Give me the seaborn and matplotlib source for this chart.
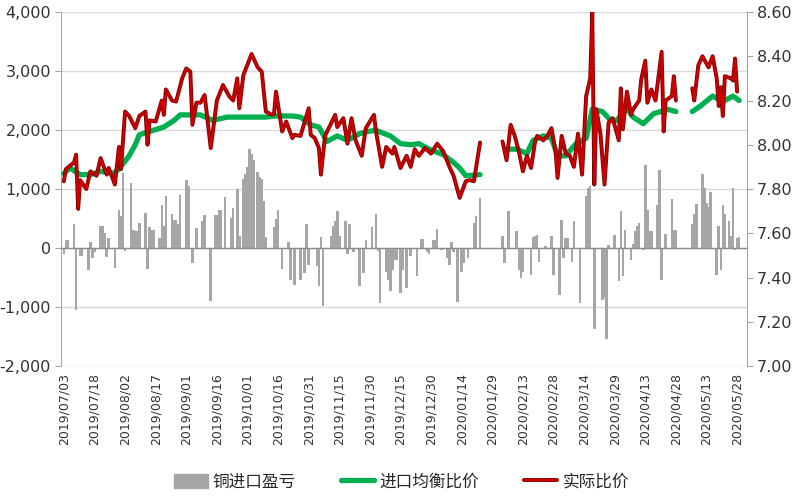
import matplotlib
matplotlib.use("Agg")
import matplotlib.pyplot as plt
import matplotlib.patheffects as pe
from matplotlib.lines import Line2D
from matplotlib.patches import Patch
from matplotlib.ticker import FuncFormatter
import pandas as pd
import seaborn as sns

# ---- data ----
tick_dates = ["2019/07/03", "2019/07/18", "2019/08/02", "2019/08/17", "2019/09/01",
              "2019/09/16", "2019/10/01", "2019/10/16", "2019/10/31", "2019/11/15",
              "2019/11/30", "2019/12/15", "2019/12/30", "2020/01/14", "2020/01/29",
              "2020/02/13", "2020/02/28", "2020/03/14", "2020/03/29", "2020/04/13",
              "2020/04/28", "2020/05/13", "2020/05/28"]

legend_labels = ["铜进口盈亏", "进口均衡比价", "实际比价"]

# copper import profit / loss (yuan/t, left axis)
profit = [
    ("2019-07-03", -110), ("2019-07-04", 140), ("2019-07-05", 140), ("2019-07-08", 400),
    ("2019-07-09", -1050), ("2019-07-11", -140), ("2019-07-12", -140), ("2019-07-15", -370),
    ("2019-07-16", 110), ("2019-07-17", -170), ("2019-07-18", -60), ("2019-07-21", 380),
    ("2019-07-22", 380), ("2019-07-23", 250), ("2019-07-24", -150), ("2019-07-25", 170),
    ("2019-07-28", -340), ("2019-07-30", 650), ("2019-07-31", 550), ("2019-08-01", 1270),
    ("2019-08-02", -50), ("2019-08-05", 1100), ("2019-08-06", 310), ("2019-08-07", 280),
    ("2019-08-08", 280), ("2019-08-09", 420), ("2019-08-12", 590), ("2019-08-13", -360),
    ("2019-08-14", 360), ("2019-08-15", 310), ("2019-08-16", 310), ("2019-08-19", 170),
    ("2019-08-20", 730), ("2019-08-21", 370), ("2019-08-22", 880), ("2019-08-25", 580),
    ("2019-08-26", 480), ("2019-08-27", 480), ("2019-08-28", 400), ("2019-08-29", 900),
    ("2019-09-01", 1160), ("2019-09-02", 1050), ("2019-09-04", -250), ("2019-09-06", 340),
    ("2019-09-09", 450), ("2019-09-10", 565), ("2019-09-13", -900), ("2019-09-15", 565),
    ("2019-09-16", 565), ("2019-09-17", 650), ("2019-09-18", 650), ("2019-09-20", 865),
    ("2019-09-23", 510), ("2019-09-24", 680), ("2019-09-26", 1000), ("2019-09-27", 200),
    ("2019-09-29", 1170), ("2019-09-30", 1250), ("2019-10-01", 1380), ("2019-10-02", 1680),
    ("2019-10-03", 1600), ("2019-10-04", 1500), ("2019-10-06", 1280), ("2019-10-07", 1200),
    ("2019-10-08", 1170), ("2019-10-09", 790), ("2019-10-10", 190), ("2019-10-14", 360),
    ("2019-10-15", 500), ("2019-10-16", 650), ("2019-10-18", -360), ("2019-10-21", 110),
    ("2019-10-22", -540), ("2019-10-24", -620), ("2019-10-27", -540), ("2019-10-29", -420),
    ("2019-10-30", 400), ("2019-10-31", -280), ("2019-11-04", -310), ("2019-11-05", -650),
    ("2019-11-06", 180), ("2019-11-07", -990), ("2019-11-11", 200), ("2019-11-12", 370),
    ("2019-11-13", 450), ("2019-11-14", 620), ("2019-11-15", 200), ("2019-11-18", 450),
    ("2019-11-19", -110), ("2019-11-20", 400), ("2019-11-22", -60), ("2019-11-25", -650),
    ("2019-11-27", -420), ("2019-11-28", 140), ("2019-12-01", 360), ("2019-12-03", 580),
    ("2019-12-04", -50), ("2019-12-05", -930), ("2019-12-08", -400), ("2019-12-09", -540),
    ("2019-12-10", -730), ("2019-12-11", -370), ("2019-12-12", -200), ("2019-12-13", -200),
    ("2019-12-15", -760), ("2019-12-16", -370), ("2019-12-18", -680), ("2019-12-20", -140),
    ("2019-12-23", -480), ("2019-12-25", 150), ("2019-12-26", 150), ("2019-12-28", -60),
    ("2019-12-29", -110), ("2019-12-31", 130), ("2020-01-01", 130), ("2020-01-02", 320),
    ("2020-01-04", -40), ("2020-01-07", -170), ("2020-01-08", -280), ("2020-01-09", 100),
    ("2020-01-10", -60), ("2020-01-12", -920), ("2020-01-14", -400), ("2020-01-15", -250),
    ("2020-01-17", -170), ("2020-01-20", 420), ("2020-01-21", 540), ("2020-01-23", 850),
    ("2020-02-03", 200), ("2020-02-04", -250), ("2020-02-06", 620), ("2020-02-10", 280),
    ("2020-02-11", -370), ("2020-02-12", -510), ("2020-02-13", -400), ("2020-02-17", -450),
    ("2020-02-18", 190), ("2020-02-19", 200), ("2020-02-20", 225), ("2020-02-21", -230),
    ("2020-02-24", 30), ("2020-02-27", 200), ("2020-02-28", -450), ("2020-03-02", -790),
    ("2020-03-03", 480), ("2020-03-04", -170), ("2020-03-05", 170), ("2020-03-06", 170),
    ("2020-03-08", -230), ("2020-03-09", 450), ("2020-03-12", -930), ("2020-03-15", 880),
    ("2020-03-16", 1020), ("2020-03-17", 1050), ("2020-03-19", -1380), ("2020-03-23", -880),
    ("2020-03-24", -850), ("2020-03-25", -1550), ("2020-03-26", 50), ("2020-03-29", 225),
    ("2020-03-31", -565), ("2020-04-01", 620), ("2020-04-02", -480), ("2020-04-03", 310),
    ("2020-04-06", -200), ("2020-04-07", 60), ("2020-04-08", 280), ("2020-04-09", 370),
    ("2020-04-10", 420), ("2020-04-12", -40), ("2020-04-13", 1400), ("2020-04-14", 650),
    ("2020-04-15", 280), ("2020-04-16", 280), ("2020-04-19", 730), ("2020-04-20", 1330),
    ("2020-04-21", -540), ("2020-04-23", 240), ("2020-04-26", 830), ("2020-04-27", 310),
    ("2020-04-28", 310), ("2020-05-06", 400), ("2020-05-07", 580), ("2020-05-08", 750),
    ("2020-05-11", 1250), ("2020-05-12", 1020), ("2020-05-13", 760), ("2020-05-14", 700),
    ("2020-05-15", 950), ("2020-05-18", -450), ("2020-05-19", 380), ("2020-05-20", -370),
    ("2020-05-21", 730), ("2020-05-22", 580), ("2020-05-24", 450), ("2020-05-25", 200),
    ("2020-05-26", 1020), ("2020-05-27", -40), ("2020-05-28", 170), ("2020-05-29", 190),
]

# import break-even ratio (right axis)
balance_ratio = [
    ("2019-07-03", 7.87), ("2019-07-06", 7.895), ("2019-07-11", 7.865), ("2019-07-16", 7.865),
    ("2019-07-21", 7.88), ("2019-07-27", 7.87), ("2019-07-30", 7.89), ("2019-08-04", 7.95),
    ("2019-08-07", 8.00), ("2019-08-09", 8.045), ("2019-08-14", 8.06), ("2019-08-21", 8.08),
    ("2019-08-26", 8.11), ("2019-08-29", 8.135), ("2019-09-03", 8.135), ("2019-09-08", 8.135),
    ("2019-09-14", 8.11), ("2019-09-21", 8.125), ("2019-09-27", 8.125), ("2019-10-03", 8.125),
    ("2019-10-10", 8.125), ("2019-10-15", 8.13), ("2019-10-19", 8.13), ("2019-10-23", 8.13),
    ("2019-10-27", 8.125), ("2019-11-01", 8.09), ("2019-11-05", 8.08), ("2019-11-09", 8.015),
    ("2019-11-14", 8.04), ("2019-11-19", 8.02), ("2019-11-25", 8.05), ("2019-11-29", 8.06),
    ("2019-12-03", 8.065), ("2019-12-10", 8.04), ("2019-12-15", 8.005), ("2019-12-20", 8.00),
    ("2019-12-24", 8.005), ("2019-12-29", 7.98), ("2020-01-05", 7.955), ("2020-01-10", 7.92),
    ("2020-01-13", 7.895), ("2020-01-16", 7.86), ("2020-01-23", 7.865),
    ("2020-02-05", 7.98), ("2020-02-10", 7.98), ("2020-02-15", 7.96), ("2020-02-18", 8.02),
    ("2020-02-23", 8.04), ("2020-02-27", 8.03), ("2020-03-01", 7.95), ("2020-03-05", 7.95),
    ("2020-03-10", 8.005), ("2020-03-15", 8.03), ("2020-03-18", 8.16), ("2020-03-23", 8.15),
    ("2020-03-27", 8.11), ("2020-03-30", 8.11), ("2020-04-04", 8.165), ("2020-04-07", 8.125),
    ("2020-04-12", 8.095), ("2020-04-17", 8.14), ("2020-04-24", 8.16), ("2020-04-28", 8.15),
    ("2020-05-06", 8.15), ("2020-05-10", 8.175), ("2020-05-16", 8.22), ("2020-05-21", 8.195),
    ("2020-05-26", 8.22), ("2020-05-29", 8.20),
]

# actual SHFE/LME price ratio (right axis)
actual_ratio = [
    ("2019-07-03", 7.835), ("2019-07-04", 7.89), ("2019-07-08", 7.92), ("2019-07-09", 7.955),
    ("2019-07-10", 7.71), ("2019-07-11", 7.84), ("2019-07-14", 7.80), ("2019-07-16", 7.88),
    ("2019-07-19", 7.86), ("2019-07-21", 7.94), ("2019-07-24", 7.865), ("2019-07-25", 7.895),
    ("2019-07-28", 7.82), ("2019-07-30", 7.99), ("2019-07-31", 7.89), ("2019-08-02", 8.15),
    ("2019-08-04", 8.13), ("2019-08-07", 8.075), ("2019-08-09", 8.13), ("2019-08-12", 8.15),
    ("2019-08-13", 8.00), ("2019-08-14", 8.11), ("2019-08-17", 8.105), ("2019-08-20", 8.20),
    ("2019-08-21", 8.135), ("2019-08-22", 8.25), ("2019-08-25", 8.20), ("2019-08-27", 8.195),
    ("2019-08-30", 8.30), ("2019-09-01", 8.345), ("2019-09-03", 8.33), ("2019-09-04", 8.09),
    ("2019-09-06", 8.19), ("2019-09-08", 8.19), ("2019-09-10", 8.225), ("2019-09-13", 7.985),
    ("2019-09-16", 8.20), ("2019-09-19", 8.27), ("2019-09-22", 8.22), ("2019-09-24", 8.20),
    ("2019-09-26", 8.30), ("2019-09-27", 8.165), ("2019-09-29", 8.315), ("2019-10-03", 8.41),
    ("2019-10-06", 8.35), ("2019-10-08", 8.33), ("2019-10-10", 8.15), ("2019-10-13", 8.135),
    ("2019-10-14", 8.14), ("2019-10-15", 8.24), ("2019-10-18", 8.06), ("2019-10-20", 8.105),
    ("2019-10-23", 8.03), ("2019-10-24", 8.045), ("2019-10-27", 8.04), ("2019-10-31", 8.165),
    ("2019-11-01", 8.045), ("2019-11-03", 8.03), ("2019-11-05", 7.985), ("2019-11-06", 7.865),
    ("2019-11-08", 8.04), ("2019-11-13", 8.135), ("2019-11-14", 8.08), ("2019-11-17", 8.12),
    ("2019-11-19", 8.005), ("2019-11-21", 8.12), ("2019-11-23", 8.02), ("2019-11-26", 7.95),
    ("2019-11-28", 8.075), ("2019-12-02", 8.135), ("2019-12-03", 8.06), ("2019-12-06", 7.90),
    ("2019-12-08", 7.99), ("2019-12-11", 7.96), ("2019-12-12", 7.99), ("2019-12-15", 7.895),
    ("2019-12-18", 7.95), ("2019-12-20", 7.90), ("2019-12-22", 7.98), ("2019-12-24", 7.95),
    ("2019-12-27", 7.985), ("2019-12-30", 7.96), ("2020-01-02", 8.005), ("2020-01-05", 7.97),
    ("2020-01-08", 7.90), ("2020-01-10", 7.86), ("2020-01-13", 7.76), ("2020-01-16", 7.835),
    ("2020-01-18", 7.84), ("2020-01-20", 7.835), ("2020-01-23", 8.01),
    ("2020-02-03", 8.015), ("2020-02-05", 7.93), ("2020-02-07", 8.09), ("2020-02-09", 8.04),
    ("2020-02-11", 7.97), ("2020-02-13", 7.88), ("2020-02-15", 7.95), ("2020-02-17", 7.895),
    ("2020-02-19", 8.015), ("2020-02-20", 8.04), ("2020-02-23", 8.02), ("2020-02-25", 8.04),
    ("2020-02-27", 8.075), ("2020-02-29", 7.97), ("2020-03-01", 7.85), ("2020-03-03", 8.04),
    ("2020-03-05", 7.96), ("2020-03-07", 7.95), ("2020-03-09", 7.90), ("2020-03-11", 8.05),
    ("2020-03-13", 7.865), ("2020-03-15", 8.22), ("2020-03-17", 8.30), ("2020-03-18", 8.60),
    ("2020-03-19", 7.82), ("2020-03-20", 8.16), ("2020-03-22", 8.05), ("2020-03-24", 7.82),
    ("2020-03-26", 8.10), ("2020-03-28", 8.12), ("2020-03-31", 8.02), ("2020-04-01", 8.255),
    ("2020-04-02", 8.07), ("2020-04-04", 8.24), ("2020-04-06", 8.135), ("2020-04-07", 8.16),
    ("2020-04-10", 8.20), ("2020-04-11", 8.295), ("2020-04-13", 8.38), ("2020-04-14", 8.19),
    ("2020-04-16", 8.25), ("2020-04-18", 8.20), ("2020-04-21", 8.42), ("2020-04-22", 8.06),
    ("2020-04-23", 8.20), ("2020-04-26", 8.22), ("2020-04-27", 8.31), ("2020-04-28", 8.20),
    ("2020-05-06", 8.255), ("2020-05-07", 8.20), ("2020-05-09", 8.36), ("2020-05-11", 8.40),
    ("2020-05-14", 8.35), ("2020-05-16", 8.40), ("2020-05-18", 8.30), ("2020-05-19", 8.175),
    ("2020-05-20", 8.26), ("2020-05-21", 8.13), ("2020-05-22", 8.31), ("2020-05-25", 8.30),
    ("2020-05-26", 8.29), ("2020-05-27", 8.39), ("2020-05-28", 8.24),
]


def to_frame(pairs):
    df = pd.DataFrame(pairs, columns=["date", "value"])
    df["date"] = pd.to_datetime(df["date"])
    # holidays leave a hole in the lines
    df["seg"] = (df["date"].diff() > pd.Timedelta(days=7.5)).cumsum()
    return df


profit_df = to_frame(profit)
balance_df = to_frame(balance_ratio)
actual_df = to_frame(actual_ratio)

sns.set_style("white")
plt.rcParams["font.family"] = ["DejaVu Sans", "Noto Sans CJK SC"]

BAR_C = "#A6A6A6"
GREEN = "#00B050"
RED = "#D00000"
AXIS_C = "#A6A6A6"
TXT = "#333333"

fig = plt.figure(figsize=(8, 5), dpi=100)
ax = fig.add_axes([0.076, 0.268, 0.8575, 0.708])

ax.bar(profit_df["date"], profit_df["value"], width=1.25, color=BAR_C, linewidth=0, zorder=2)
ax.axhline(0, color="#8C8C8C", lw=1, zorder=3)
ax.set_ylim(-2000, 4000)
ax.set_yticks(range(-2000, 4001, 1000))
ax.yaxis.set_major_formatter(FuncFormatter(lambda v, p: f"{int(v):,}"))
ax.grid(axis="y", color="#D9D9D9", lw=1, zorder=0)
ax.grid(axis="x", visible=False)
ax.set_axisbelow(True)

ax2 = ax.twinx()
sns.lineplot(data=balance_df, x="date", y="value", units="seg", estimator=None,
             color=GREEN, lw=3.8, ax=ax2, legend=False, zorder=4)
sns.lineplot(data=actual_df, x="date", y="value", units="seg", estimator=None,
             color=RED, lw=1.6, ax=ax2, legend=False, zorder=5,
             path_effects=[pe.Stroke(linewidth=2.8, foreground="#7A0000"), pe.Normal()])
ax2.set_ylim(7.0, 8.6)
ax2.set_yticks([7.0, 7.2, 7.4, 7.6, 7.8, 8.0, 8.2, 8.4, 8.6])
ax2.yaxis.set_major_formatter(FuncFormatter(lambda v, p: f"{v:.2f}"))
ax2.set_xlabel("")
ax2.set_ylabel("")

ticks = pd.to_datetime(tick_dates, format="%Y/%m/%d")
ax.set_xlim(pd.Timestamp("2019-07-01 12:00"), pd.Timestamp("2020-06-01 18:00"))
ax.set_xticks(ticks)
ax.set_xticklabels(tick_dates, rotation=90, fontsize=9, color=TXT)
ax.tick_params(axis="x", length=0, pad=5)
ax.tick_params(axis="y", length=4, color=AXIS_C, labelsize=11.5, labelcolor=TXT, pad=3)
ax2.tick_params(axis="y", length=4, color=AXIS_C, labelsize=11.5, labelcolor=TXT, pad=3)

for a in (ax, ax2):
    for s in ("top", "bottom"):
        a.spines[s].set_visible(False)
ax.spines["right"].set_visible(False)
ax.spines["left"].set_color(AXIS_C)
ax2.spines["left"].set_visible(False)
ax2.spines["right"].set_color(AXIS_C)

handles = [Patch(facecolor=BAR_C, edgecolor=BAR_C),
           Line2D([], [], color=GREEN, lw=3.8),
           Line2D([], [], color=RED, lw=1.6,
                  path_effects=[pe.Stroke(linewidth=2.8, foreground="#7A0000"), pe.Normal()])]
fig.legend(handles, legend_labels, loc="center", bbox_to_anchor=(0.502, 0.036), ncol=3,
           frameon=False, handlelength=2.0, handleheight=0.9, columnspacing=2.7,
           handletextpad=0.3, prop={"family": ["Noto Sans CJK SC"], "size": 12})

fig.savefig("out.png", dpi=100)
